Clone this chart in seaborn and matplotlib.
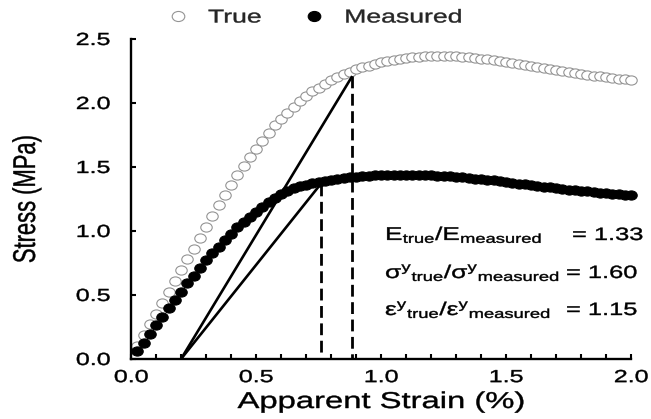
import matplotlib
matplotlib.use("Agg")
import numpy as np
import pandas as pd
import seaborn as sns
import matplotlib.pyplot as plt
from matplotlib.path import Path
from matplotlib.transforms import Affine2D
from matplotlib.patheffects import AbstractPathEffect
from matplotlib.ticker import MultipleLocator

# ---------------------------------------------------------------- data
strain = [
    0.025, 0.050, 0.075, 0.100, 0.125, 0.150, 0.175, 0.200, 0.225, 0.250,
    0.275, 0.300, 0.325, 0.350, 0.375, 0.400, 0.425, 0.450, 0.475, 0.500,
    0.525, 0.550, 0.575, 0.600, 0.625, 0.650, 0.675, 0.700, 0.725, 0.750,
    0.775, 0.800, 0.825, 0.850, 0.875, 0.900, 0.925, 0.950, 0.975, 1.000,
    1.025, 1.050, 1.075, 1.100, 1.125, 1.150, 1.175, 1.200, 1.225, 1.250,
    1.275, 1.300, 1.325, 1.350, 1.375, 1.400, 1.425, 1.450, 1.475, 1.500,
    1.525, 1.550, 1.575, 1.600, 1.625, 1.650, 1.675, 1.700, 1.725, 1.750,
    1.775, 1.800, 1.825, 1.850, 1.875, 1.900, 1.925, 1.950, 1.975, 2.000,
]

true_stress = [
    0.100, 0.185, 0.270, 0.355, 0.440, 0.525, 0.610, 0.695, 0.780, 0.860,
    0.945, 1.030, 1.115, 1.200, 1.280, 1.360, 1.435, 1.505, 1.575, 1.640,
    1.705, 1.765, 1.825, 1.875, 1.925, 1.970, 2.015, 2.055, 2.090, 2.120,
    2.150, 2.180, 2.205, 2.225, 2.245, 2.262, 2.278, 2.292, 2.305, 2.317,
    2.327, 2.336, 2.344, 2.350, 2.356, 2.360, 2.364, 2.366, 2.368, 2.368,
    2.367, 2.365, 2.362, 2.358, 2.353, 2.347, 2.341, 2.334, 2.327, 2.320,
    2.312, 2.304, 2.296, 2.288, 2.280, 2.272, 2.264, 2.256, 2.249, 2.242,
    2.235, 2.228, 2.221, 2.214, 2.208, 2.202, 2.196, 2.190, 2.185, 2.180,
]

measured_stress = [
    0.065, 0.127, 0.195, 0.262, 0.330, 0.396, 0.462, 0.526, 0.590, 0.648,
    0.708, 0.770, 0.826, 0.877, 0.930, 0.980, 1.028, 1.070, 1.110, 1.150,
    1.190, 1.225, 1.258, 1.288, 1.313, 1.333, 1.350, 1.363, 1.374, 1.384,
    1.392, 1.400, 1.407, 1.413, 1.418, 1.423, 1.427, 1.431, 1.434, 1.436,
    1.438, 1.439, 1.440, 1.440, 1.440, 1.439, 1.437, 1.435, 1.433, 1.430,
    1.427, 1.423, 1.419, 1.415, 1.410, 1.405, 1.400, 1.395, 1.389, 1.383,
    1.377, 1.371, 1.365, 1.359, 1.353, 1.347, 1.341, 1.335, 1.329, 1.324,
    1.319, 1.314, 1.309, 1.304, 1.300, 1.296, 1.292, 1.288, 1.285, 1.282,
]

# modulus construction: offset strain and the yield points (true, measured)
offset_strain = 0.2
yield_strain = [0.885, 0.760]
yield_stress = [2.21, 1.37]

series_labels = ["True", "Measured"]
ratio_labels = [
    (r"$\mathrm{E_{true}/E_{measured}}$", "= 1.33"),
    (r"$\mathrm{\sigma^{y}{}_{true}/\sigma^{y}{}_{measured}}$", "= 1.60"),
    (r"$\mathrm{\varepsilon^{y}{}_{true}/\varepsilon^{y}{}_{measured}}$", "= 1.15"),
]
x_ticks = [0.0, 0.5, 1.0, 1.5, 2.0]
y_ticks = [0.0, 0.5, 1.0, 1.5, 2.0, 2.5]


# ---------------------------------------------------------------- style
class HStretch(AbstractPathEffect):
    """Draw text glyphs widened horizontally about an anchor, with a thin outline."""

    def __init__(self, sx=1.43, anchor="center", stroke=0.3):
        super().__init__()
        self.sx = sx
        self.anchor = anchor
        self.stroke = stroke

    def draw_path(self, renderer, gc, tpath, affine, rgbFace=None):
        verts = affine.transform(tpath.vertices)
        if len(verts) == 0:
            renderer.draw_path(gc, tpath, affine, rgbFace)
            return
        x0, x1 = verts[:, 0].min(), verts[:, 0].max()
        xa = {"left": x0, "right": x1, "center": 0.5 * (x0 + x1)}[self.anchor]
        t = affine + Affine2D().translate(-xa, 0).scale(self.sx, 1.0).translate(xa, 0)
        gc0 = renderer.new_gc()
        gc0.copy_properties(gc)
        if rgbFace is not None and self.stroke > 0:
            gc0.set_foreground(rgbFace)
            gc0.set_linewidth(self.stroke)
        renderer.draw_path(gc0, tpath, t, rgbFace)
        gc0.restore()


sns.set_style("ticks")
plt.rcParams["font.family"] = ["Liberation Sans", "DejaVu Sans"]
plt.rcParams["mathtext.fontset"] = "custom"
plt.rcParams["mathtext.rm"] = "Liberation Sans"
plt.rcParams["mathtext.it"] = "Liberation Sans:italic"
plt.rcParams["mathtext.bf"] = "Liberation Sans:bold"
plt.rcParams["lines.scale_dashes"] = False

W, H = 651, 419
fig = plt.figure(figsize=(W / 100, H / 100), dpi=100)
fig.patch.set_facecolor("white")
ax = fig.add_axes([131 / W, 1 - 359 / H, 500 / W, 320 / H])
ax.set_facecolor("white")

# slightly flattened round marker
ellipse = Affine2D().scale(1.0, 0.8).transform_path(Path.unit_circle())

df_true = pd.DataFrame({"strain": strain, "stress": true_stress})
df_meas = pd.DataFrame({"strain": strain, "stress": measured_stress})

sns.scatterplot(data=df_true, x="strain", y="stress", ax=ax, marker=ellipse,
                s=68, color="white", edgecolor="#949494", linewidth=0.8,
                label=series_labels[0], clip_on=False, zorder=2)
sns.scatterplot(data=df_meas, x="strain", y="stress", ax=ax, marker=ellipse,
                s=68, color="black", edgecolor="black", linewidth=0.8,
                label=series_labels[1], clip_on=False, zorder=3)

# modulus lines from the offset strain and vertical dashed markers at yield
for ys, yv in zip(yield_strain, yield_stress):
    ax.plot([offset_strain, ys], [0, yv], color="black", lw=1.9, zorder=4,
            solid_capstyle="butt")
    ax.plot([ys, ys], [yv, 0], color="black", lw=2.0, zorder=4,
            linestyle=(0, (8.5, 4)), dash_capstyle="butt")

# axes
ax.set_xlim(0, 2.0)
ax.set_ylim(0, 2.5)
ax.set_xticks(x_ticks)
ax.set_yticks(y_ticks)
ax.set_xticklabels([f"{v:.1f}" for v in x_ticks])
ax.set_yticklabels([f"{v:.1f}" for v in y_ticks])
ax.xaxis.set_minor_locator(MultipleLocator(0.1))
for side in ("top", "right"):
    ax.spines[side].set_visible(False)
for side in ("left", "bottom"):
    ax.spines[side].set_linewidth(1.7)
    ax.spines[side].set_color("black")
ax.tick_params(axis="both", which="both", direction="in", length=3.8,
               width=1.5, color="black", labelcolor="black", labelsize=12.6)
ax.tick_params(axis="y", pad=15)
ax.tick_params(axis="x", pad=8)

ax.set_xlabel("Apparent Strain (%)", fontsize=16.5, color="black")
ax.xaxis.set_label_coords(0.5, (359 - 390) / 320)
ax.set_ylabel("Stress (MPa)", fontsize=15.8, color="black", va="center")
ax.yaxis.set_label_coords((27 - 131) / 500, 0.5)

# ratio annotations
rows_y = [240, 278, 315]
eq_x = [572, 566, 566]
for (lhs, rhs), yb, xe in zip(ratio_labels, rows_y, eq_x):
    t1 = ax.text((385 - 131) / 500, (359 - yb) / 320, lhs, transform=ax.transAxes,
                 fontsize=13.2, ha="left", va="baseline", color="black")
    t2 = ax.text((xe - 131) / 500, (359 - yb) / 320, rhs, transform=ax.transAxes,
                 fontsize=12.8, ha="left", va="baseline", color="black")
    for t in (t1, t2):
        t.set_path_effects([HStretch(1.43, "left")])

# legend above the plot
handles, labels = ax.get_legend_handles_labels()
leg = ax.legend(handles, labels, loc="center left",
                bbox_to_anchor=(168.7 / W, 1 - 18 / H), bbox_transform=fig.transFigure,
                ncol=2, frameon=False, handlelength=1.0, handletextpad=1.11,
                columnspacing=3.2, borderpad=0, borderaxespad=0,
                scatterpoints=1, scatteryoffsets=[0.5], markerscale=1.1,
                fontsize=13.4)
for t in leg.get_texts():
    t.set_path_effects([HStretch(1.43, "left")])

# widen all axis text to the chart's lettering
for t in ax.get_xticklabels():
    t.set_path_effects([HStretch(1.43, "center")])
for t in ax.get_yticklabels():
    t.set_path_effects([HStretch(1.43, "right")])
ax.xaxis.label.set_path_effects([HStretch(1.43, "center")])
ax.yaxis.label.set_path_effects([HStretch(1.43, "center")])

fig.savefig("out.png", dpi=100, facecolor="white")
